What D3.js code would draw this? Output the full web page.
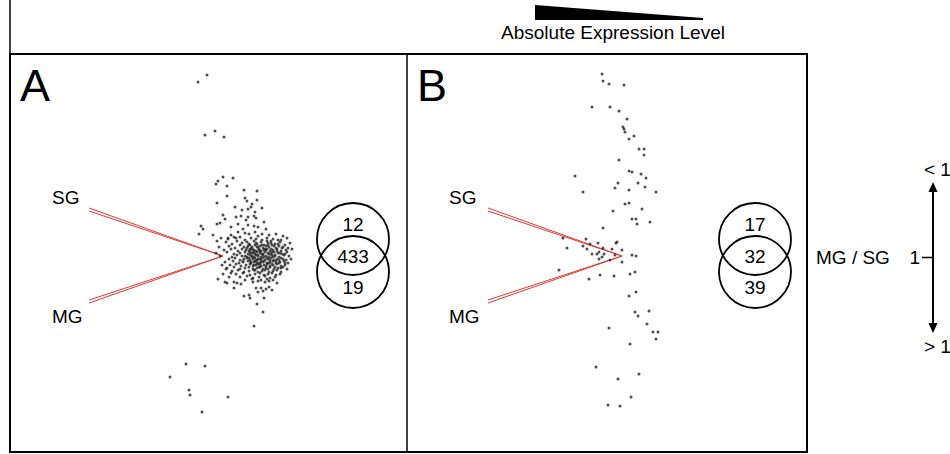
<!DOCTYPE html>
<html>
	<head>
		<meta charset="utf-8">
		<title>MG / SG expression</title>
		<style>
			body { margin: 0; background: #fff; }
			svg { display: block; font-family: "Liberation Sans", Arial, sans-serif; }
		</style>
	</head>
	<body>
		<svg></svg>
		<script src="https://d3js.org/d3.v7.min.js"></script>
		<script>
			// data: [expression offset, log MG/SG ratio offset] relative to the ratio = 1 point
			var outliersA = [[-16,-181],[-25,-174],[-8,-125],[-18,-121],[1,-119],
				[31,70],[-37,108],[-18,110],[-53,121],[-34,134],[-33,139],[5,141],[-21,156]]
			var upperA = [[0,-79],[10,-78],[-5,-75],[-7,-72],[4,-70],[21,-66],[34,-65],[4,-60],[22,-58],[34,-56],
				[24,-55],[-6,-53],[29,-52],[12,-49],[28,-49],[39,-48],[19,-46],[25,-47],[32,-44],[0,-41],
				[13,-39],[18,-40],[25,-39],[31,-40],[33,-38],[2,-37],[23,-36],[-3,-33],[-6,-32],[41,-34],
				[15,-32],[25,-31],[31,-30],[35,-29],[-22,-30],[-20,-27],[8,-29],[43,-27],[20,-27],[-24,-22],
				[-10,-21],[15,-24],[22,-23],[32,-24],[39,-22],[-2,-18],[5,-18],[11,-19],[17,-19],[55,-16],[-6,-15]]
			var lowerA = [[-1,9],[3,13],[0,18],[-5,23],[2,26],[4,27],[11,26],[14,27],[18,28],[11,32],
				[30,26],[35,25],[42,26],[46,25],[54,27],[33,32],[38,32],[43,33],[46,31],[49,34],
				[40,35],[35,36],[21,40],[27,42],[26,39],[41,42],[34,48],[40,56],[6,21],[8,17]]
			var coreA = [
				[3,-14],[9,-12],[14,-15],[19,-13],[24,-14],[27,-11],[31,-15],[34,-12],[38,-14],[41,-11],[45,-13],[48,-15],[52,-12],[57,-14],[62,-11],[67,-13],
				[-4,-9],[6,-10],[12,-8],[17,-11],[21,-9],[25,-10],[29,-8],[32,-11],[35,-9],[37,-10],[40,-8],[43,-10],[46,-9],[49,-11],[53,-8],[56,-10],[60,-9],[65,-8],
				[1,-6],[8,-7],[15,-5],[19,-7],[23,-6],[26,-5],[28,-7],[31,-6],[33,-5],[36,-7],[38,-5],[41,-6],[44,-7],[47,-5],[50,-6],[54,-7],[58,-5],[63,-6],[69,-7],
				[-7,-3],[4,-4],[11,-2],[17,-3],[22,-4],[25,-2],[27,-4],[30,-3],[32,-2],[34,-4],[37,-3],[39,-2],[42,-4],[45,-3],[48,-2],[51,-4],[55,-3],[59,-2],[64,-4],
				[-3,0],[9,1],[14,-1],[19,0],[24,1],[27,-1],[29,0],[31,1],[33,-1],[35,0],[38,1],[40,-1],[43,0],[46,1],[49,-1],[52,0],[56,1],[61,-1],[66,0],
				[6,3],[12,2],[17,4],[21,3],[24,2],[27,4],[30,3],[32,2],[34,4],[37,3],[39,2],[42,4],[45,3],[48,2],[51,4],[54,3],[58,2],[63,4],[68,3],
				[2,6],[10,5],[16,7],[20,6],[25,5],[28,7],[31,6],[33,5],[36,7],[38,6],[41,5],[44,7],[47,6],[50,5],[53,7],[57,6],[61,5],[65,7],
				[7,9],[13,8],[18,10],[23,9],[27,8],[30,10],[33,9],[35,8],[38,10],[41,9],[44,8],[47,10],[50,9],[54,8],[58,10],[62,9],
				[4,12],[11,11],[17,13],[22,12],[26,11],[30,13],[34,12],[37,11],[40,13],[43,12],[47,11],[51,13],[55,12],[60,11],[64,13],
				[9,15],[15,14],[21,16],[26,15],[31,14],[35,16],[39,15],[42,14],[46,16],[50,15],[54,14],[58,16],
				[13,18],[20,17],[27,19],[32,18],[37,17],[41,19],[45,18],[49,17],[53,19],[57,18],
				[17,21],[24,20],[30,22],[36,21],[42,20],[47,22],[52,21],
				[22,24],[29,23],[38,24],[44,23],[50,24],
				[5,-17],[13,-18],[22,-16],[28,-18],[33,-17],[39,-16],[44,-18],[50,-17],[58,-16],[64,-18],
				[8,-21],[26,-22],[35,-20],[46,-21],[53,-22],[60,-20],
				[26,-12],[29,-9],[33,-13],[36,-6],[39,-11],[42,-7],[45,-11],[48,-7],[51,-10],[55,-12],
				[28,-3],[31,-4],[35,-1],[37,-5],[40,-2],[43,-6],[46,-2],[49,-4],[52,-1],[57,-3],
				[26,2],[29,1],[32,5],[35,3],[38,4],[41,1],[44,2],[47,4],[50,1],[53,5],[56,4],
				[28,6],[31,9],[34,7],[37,8],[40,6],[43,10],[46,7],[49,8],[52,11],[56,7],[60,3],[62,-2],[59,-8],
				[30,-6],[34,-9],[27,-7],[48,-13],[44,-15],[54,-5],[36,11],[32,14],[45,13],[58,12],[24,-8],[22,0],[20,5],[62,7]]
			var pointsB = [[-20,-182],[-19,-175],[-13,-172],[2,-171],[-30,-149],[-12,-149],[-3,-145],[5,-137],[1,-129],[2,-127],
				[3,-124],[12,-120],[7,-117],[17,-107],[22,-107],[22,-101],[-3,-96],[7,-85],[10,-84],[19,-82],
				[24,-78],[-47,-80],[-4,-73],[16,-73],[-7,-68],[23,-69],[7,-66],[34,-64],[-39,-64],[3,-52],
				[7,-53],[20,-47],[-9,-45],[10,-37],[14,-37],[15,-32],[28,-34],[-19,-28],[-59,-18],[-36,-17],
				[-5,-14],[-6,-13],[-24,-13],[-32,-12],[-55,-8],[-39,-10],[-35,-7],[-19,-8],[-10,-7],[0,-6],
				[-30,-2],[-25,-2],[-23,-4],[-18,-2],[-7,-1],[10,-1],[14,0],[-23,3],[-20,1],[-12,4],
				[0,6],[-63,14],[-33,23],[-22,19],[-8,20],[8,18],[13,16],[7,40],[14,36],[13,56],
				[16,60],[27,55],[-13,72],[25,68],[31,76],[36,76],[34,83],[8,88],[-26,111],[17,118],
				[-4,123],[9,141],[-14,149],[-2,150]]
			// venn counts: only SG / both / only MG
			var vennA = [12, 433, 19]
			var vennB = [17, 32, 39]
			// fold-change guide lines (start of each line, all end at ratio = 1)
			var guideSG = [[-134,-48],[-134,-45]]
			var guideMG = [[-134,44],[-134,47]]

			// init vars
			var _width = 950
			var _height = 454
			var _svg = d3.select("svg").attr("width", _width).attr("height", _height)

			var frameTop = 54, frameBottom = 452, frameLeft = 10, frameMid = 407, frameRight = 807

			// frame
			_svg.append("line").attr("x1", frameLeft).attr("x2", frameLeft).attr("y1", 0).attr("y2", frameTop)
				.attr("stroke", "#000").attr("stroke-width", 1.5)
			_svg.append("rect").attr("x", frameLeft).attr("y", frameTop)
				.attr("width", frameRight - frameLeft).attr("height", frameBottom - frameTop)
				.attr("fill", "none").attr("stroke", "#000").attr("stroke-width", 2)
			_svg.append("line").attr("x1", frameMid).attr("x2", frameMid).attr("y1", frameTop).attr("y2", frameBottom)
				.attr("stroke", "#000").attr("stroke-width", 1.5)

			// expression wedge on top
			_svg.append("path")
				.attr("d", "M535,5 L703,18 L703,20 L535,20 Z")
				.attr("fill", "#000")
			_svg.append("text").attr("x", 613).attr("y", 39).attr("text-anchor", "middle")
				.attr("font-size", 19).text("Absolute Expression Level")

			function drawPanel(left, letter, vertexX, dots, venn, vennX) {
				var x = d3.scaleLinear().domain([-100, 100]).range([vertexX - 100, vertexX + 100])
				var y = d3.scaleLinear().domain([-200, 200]).range([56, 456])
				var g = _svg.append("g")

				g.append("text").attr("x", left + 10).attr("y", 101)
					.attr("font-size", 45).text(letter)
				g.append("text").attr("x", left + 42).attr("y", 204).attr("font-size", 19).text("SG")
				g.append("text").attr("x", left + 42).attr("y", 323).attr("font-size", 19).text("MG")

				// red guide lines
				guideSG.concat(guideMG).forEach(function (d) {
					g.append("line")
						.attr("x1", x(d[0])).attr("y1", y(d[1]))
						.attr("x2", x(0)).attr("y2", y(0))
						.attr("stroke", "#e03a32").attr("stroke-width", 1)
				})

				g.selectAll("circle.dot").data(dots).join("circle")
					.attr("class", "dot")
					.attr("cx", function (d) { return x(d[0]) })
					.attr("cy", function (d) { return y(d[1]) })
					.attr("r", 1.5)
					.attr("fill", "#2e2e2e")
					.attr("fill-opacity", 0.85)

				// venn
				var vy = d3.scaleLinear().domain([0, 1]).range([239, 272])
				;[0, 1].forEach(function (i) {
					g.append("circle").attr("cx", vennX).attr("cy", vy(i)).attr("r", 36)
						.attr("fill", "none").attr("stroke", "#000").attr("stroke-width", 1.8)
				})
				var ty = [231, 263, 294]
				venn.forEach(function (v, i) {
					g.append("text").attr("x", vennX).attr("y", ty[i]).attr("text-anchor", "middle")
						.attr("font-size", 19).text(v)
				})
			}

			drawPanel(frameLeft, "A", 223, outliersA.concat(upperA, lowerA, coreA), vennA, 353)
			drawPanel(frameMid, "B", 622, pointsB, vennB, 755)

			// ratio legend on the right
			var ly = d3.scaleLinear().domain([-1, 1]).range([182, 333])
			_svg.append("line").attr("x1", 933).attr("x2", 933).attr("y1", ly(-1) + 8).attr("y2", ly(1) - 8)
				.attr("stroke", "#000").attr("stroke-width", 2)
			_svg.append("path").attr("d", "M933," + ly(-1) + " l-4.5,10 l9,0 Z").attr("fill", "#000")
			_svg.append("path").attr("d", "M933," + ly(1) + " l-4.5,-10 l9,0 Z").attr("fill", "#000")
			_svg.append("line").attr("x1", 922).attr("x2", 933).attr("y1", ly(0)).attr("y2", ly(0))
				.attr("stroke", "#000").attr("stroke-width", 1.5)
			_svg.append("text").attr("x", 920).attr("y", ly(0) + 6).attr("text-anchor", "end")
				.attr("font-size", 19).text("1")
			_svg.append("text").attr("x", 816).attr("y", ly(0) + 6).attr("font-size", 19).text("MG / SG")
			_svg.append("text").attr("x", 924).attr("y", 176).attr("font-size", 19).text("< 1")
			_svg.append("text").attr("x", 924).attr("y", 353).attr("font-size", 19).text("> 1")
		</script>
	</body>
</html>
